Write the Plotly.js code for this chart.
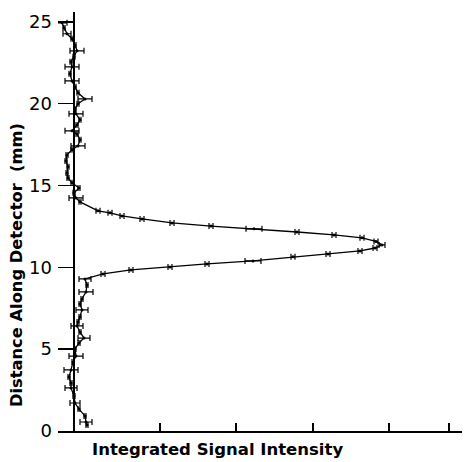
<!DOCTYPE html>
<html>
<head>
<meta charset="utf-8">
<script src="https://cdn.plot.ly/plotly-3.0.1.min.js"></script>
<style>html,body{margin:0;padding:0;background:#fff;}#chart{width:464px;height:462px;}</style>
</head>
<body>
<div id="chart"></div>
<script>
// Distance along detector (mm)
const distance = [24.94,24.63,24.27,23.96,23.59,23.23,22.86,22.56,22.25,21.82,21.39,21.03,20.66,20.29,19.99,19.68,19.38,19.01,18.70,18.34,18.15,17.79,17.42,17.18,16.87,16.50,16.14,15.77,15.46,15.16,14.85,14.55,14.24,
  14.00,13.45,13.33,13.14,12.96,12.71,12.52,12.35,12.16,11.98,11.80,11.58,11.37,11.18,11.00,10.82,10.64,10.39,10.21,10.02,9.84,9.60,9.29,
  8.92,8.50,8.07,7.76,7.40,6.97,6.66,6.42,6.05,5.68,5.38,5.01,4.58,4.22,3.73,3.30,2.93,2.63,2.14,1.71,1.34,0.92,0.55,0.37];
// Integrated signal intensity (arbitrary units)
const intensity = [-0.12,-0.10,-0.07,-0.02,0.01,0.03,0.00,-0.03,-0.02,-0.04,-0.02,0.01,0.04,0.11,0.04,0.01,0.02,0.06,0.03,-0.02,0.03,0.06,0.04,-0.02,-0.07,-0.08,-0.06,-0.07,-0.06,-0.02,0.05,0.00,0.02,
  0.06,0.24,0.36,0.48,0.68,0.98,1.37,1.80,2.23,2.60,2.88,3.02,3.08,3.01,2.86,2.54,2.19,1.79,1.33,0.96,0.57,0.29,0.11,
  0.13,0.12,0.08,0.06,0.08,0.06,0.04,0.03,0.06,0.10,0.05,0.01,0.02,-0.01,-0.03,-0.05,-0.03,-0.03,0.00,0.01,0.05,0.11,0.12,0.13];
// Horizontal error (arbitrary units)
const intensityErr = [0.05,0.01,0.04,0.01,0.01,0.07,0.01,0.01,0.07,0.01,0.07,0.01,0.01,0.07,0.01,0.01,0.07,0.01,0.01,0.07,0.01,0.01,0.07,0.01,0.01,0.01,0.01,0.01,0.01,0.01,0.01,0.01,0.07,
  0.01,0.02,0.02,0.02,0.02,0.02,0.02,0.08,0.02,0.02,0.02,0.02,0.03,0.02,0.02,0.02,0.02,0.08,0.02,0.02,0.02,0.02,0.06,
  0.01,0.07,0.01,0.01,0.06,0.01,0.01,0.06,0.01,0.06,0.01,0.01,0.07,0.01,0.07,0.01,0.01,0.06,0.01,0.05,0.01,0.01,0.06,0.01];
const yTicks = [0,5,10,15,20,25];
const xTicks = [0.86,1.62,2.39,3.15,3.75];

const trace = {
  x: intensity, y: distance, type: 'scatter', mode: 'lines+markers',
  line: {color: '#000', width: 1.3},
  marker: {color: '#000', size: 3},
  error_x: {type: 'data', array: intensityErr, visible: true, color: '#000', thickness: 1.2, width: 3},
  hoverinfo: 'skip', showlegend: false
};

const layout = {
  width: 464, height: 462,
  margin: {l: 58, r: 2, t: 12, b: 31},
  paper_bgcolor: '#fff', plot_bgcolor: '#fff',
  font: {family: 'DejaVu Sans', color: '#000'},
  xaxis: {
    range: [-0.16, 3.88], showgrid: false,
    zeroline: true, zerolinecolor: '#000', zerolinewidth: 1.3,
    showline: true, linecolor: '#000', linewidth: 1.5,
    ticks: 'inside', ticklen: 8, tickwidth: 1.3, tickcolor: '#000',
    tickvals: xTicks, showticklabels: false, fixedrange: true
  },
  yaxis: {
    range: [0, 25.6], showgrid: false, zeroline: false, showline: false,
    ticks: 'inside', ticklen: 16, tickwidth: 1.5, tickcolor: '#000',
    tickvals: yTicks, ticktext: yTicks.map(String), ticklabelstandoff: 5,
    tickfont: {family: 'DejaVu Sans', size: 18, color: '#000'}, fixedrange: true
  },
  annotations: [
    {text: 'Integrated Signal Intensity', xref: 'paper', yref: 'paper', x: 0.396, y: -0.045,
     xanchor: 'center', yanchor: 'middle', showarrow: false,
     font: {family: 'DejaVu Sans', size: 16.5, color: '#000', weight: 'bold'}},
    {text: 'Distance Along Detector  (mm)', xref: 'paper', yref: 'paper', x: -0.104, y: 0.396,
     xanchor: 'center', yanchor: 'middle', showarrow: false, textangle: -90,
     font: {family: 'DejaVu Sans', size: 16.3, color: '#000', weight: 'bold'}}
  ]
};

Plotly.newPlot('chart', [trace], layout, {displayModeBar: false, staticPlot: true});
</script>
</body>
</html>
